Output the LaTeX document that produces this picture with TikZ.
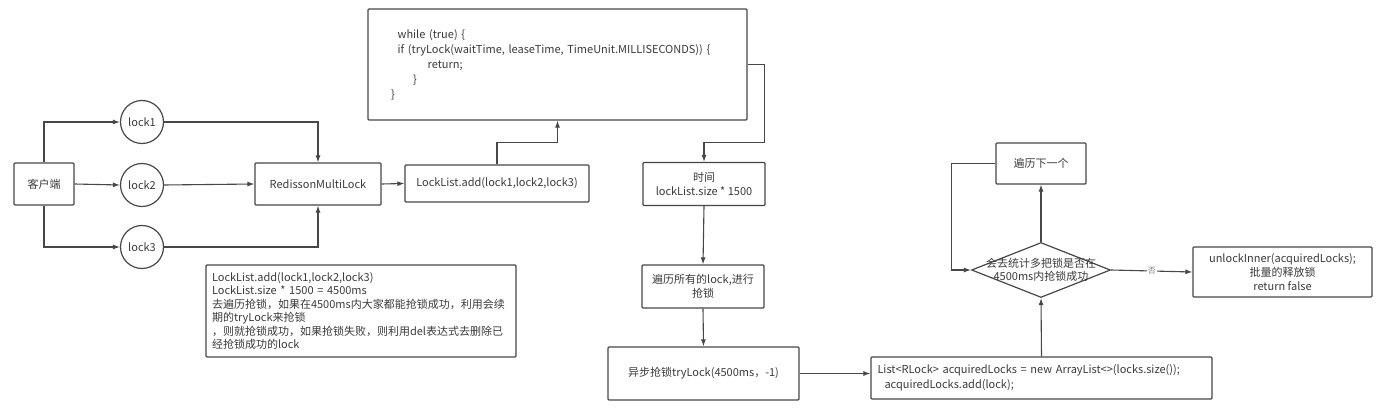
\documentclass[tikz,border=0pt]{standalone}
\usepackage{fontspec}
\setmainfont{Noto Sans CJK SC}
\usetikzlibrary{arrows.meta,shapes.geometric}
\definecolor{lin}{HTML}{474747}
\definecolor{txt}{HTML}{3A3A3A}
\tikzset{
	box/.style={draw=lin, line width=1.2pt, rounded corners=1pt, text=txt, inner sep=0pt, align=center},
	lockcirc/.style={circle, draw=lin, line width=1.2pt, minimum size=43pt, text=txt, inner sep=0pt},
	arr/.style={draw=lin, line width=1.1pt, -{Latex[length=7pt,width=5pt]}},
}
\begin{document}
\begin{tikzpicture}[x=1pt, y=-1pt, font=\fontsize{11}{14.5}\selectfont]
	\useasboundingbox (0,0) rectangle (1379,414);
	\node[box, minimum width=60pt, minimum height=42pt] (client) at (44,184) {客户端};
	\node[lockcirc] (lock1) at (142,122) {lock1};
	\node[lockcirc] (lock2) at (142,185) {lock2};
	\node[lockcirc] (lock3) at (142,247) {lock3};
	\node[box, minimum width=126pt, minimum height=42pt] (rml) at (318,184) {RedissonMultiLock};
	\node[box, minimum width=184pt, minimum height=37pt] (add) at (497,183.5) {LockList.add(lock1,lock2,lock3)};
	\draw[arr] (client.north) |- (lock1.west);
	\draw[arr] (client.east) -- (lock2.west);
	\draw[arr] (client.south) |- (lock3.west);
	\draw[arr] (lock1.east) -| (rml.north);
	\draw[arr] (lock2.east) -- (rml.west);
	\draw[arr] (lock3.east) -| (rml.south);
	\draw[arr] (rml.east) -- (add.west);
	%
	\node[box, minimum width=379pt, minimum height=111pt, text width=333pt, inner xsep=23pt, align=left, font=\fontsize{11}{15}\selectfont] (code) at (557.5,64.5)
		{\hspace*{6.7pt}while (true) \{\\ \hspace*{6.7pt}if (tryLock(waitTime, leaseTime, TimeUnit.MILLISECONDS)) \{\\ \hspace*{36.7pt}return;\\ \hspace*{22pt}\}\\ \}};
	\node[box, minimum width=310pt, minimum height=92pt, text width=298pt, inner xsep=6pt, align=left, font=\fontsize{11}{13.5}\selectfont] (note) at (361,311)
		{LockList.add(lock1,lock2,lock3)\\ LockList.size * 1500 = 4500ms\\ 去遍历抢锁，如果在4500ms内大家都能抢锁成功，利用会续\\ 期的tryLock来抢锁\\ ，则就抢锁成功，如果抢锁失败，则利用del表达式去删除已\\ 经抢锁成功的lock};
	\draw[arr] (add.north) -- ++(0,-22) -| (code.south);
	%
	\node[box, minimum width=122pt, minimum height=43pt] (time) at (704,184) {时间\\lockList.size * 1500};
	\node[box, minimum width=122pt, minimum height=43pt] (iter) at (703,286.5) {遍历所有的lock,进行\\抢锁};
	\node[box, minimum width=191pt, minimum height=53pt] (async) at (703.5,373.5) {异步抢锁tryLock(4500ms，-1)};
	\draw[arr] (code.east) -- ++(17,0) -- ++(0,78) -| (time.north);
	\draw[arr] (time.south) -- (iter.north);
	\draw[arr] (iter.south) -- (async.north);
	%
	\node[box, minimum width=341pt, minimum height=42pt, text width=328pt, inner xsep=6.5pt, align=left] (list) at (1041.5,378)
		{List<RLock> acquiredLocks = new ArrayList<>(locks.size());\\ \hspace*{7pt}acquiredLocks.add(lock);};
	\node[diamond, draw=lin, line width=1.2pt, minimum width=139pt, minimum height=55pt, inner sep=0pt,
		label={[text=txt, align=center, font=\fontsize{11}{13}\selectfont]center:会去统计多把锁是否在\\4500ms内抢锁成功}] (dia) at (1041,270) {};
	\node[box, minimum width=90pt, minimum height=41pt] (next) at (1041,163.5) {遍历下一个};
	\node[box, minimum width=179pt, minimum height=50pt, font=\fontsize{11}{14}\selectfont] (unlock) at (1282.5,272) {unlockInner(acquiredLocks);\\批量的释放锁\\return false};
	\draw[arr] (async.east) -- (async.east -| list.west);
	\draw[arr] (list.north) -- (dia.south);
	\draw[arr] (dia.north) -- (next.south);
	\draw[arr] (next.west) -- ++(-44,0) |- (dia.west);
	\draw[arr] (dia.east) -- node[fill=white, text=gray, font=\fontsize{8}{8}\selectfont, inner sep=1pt] {否} (unlock.west);
\end{tikzpicture}
\end{document}
